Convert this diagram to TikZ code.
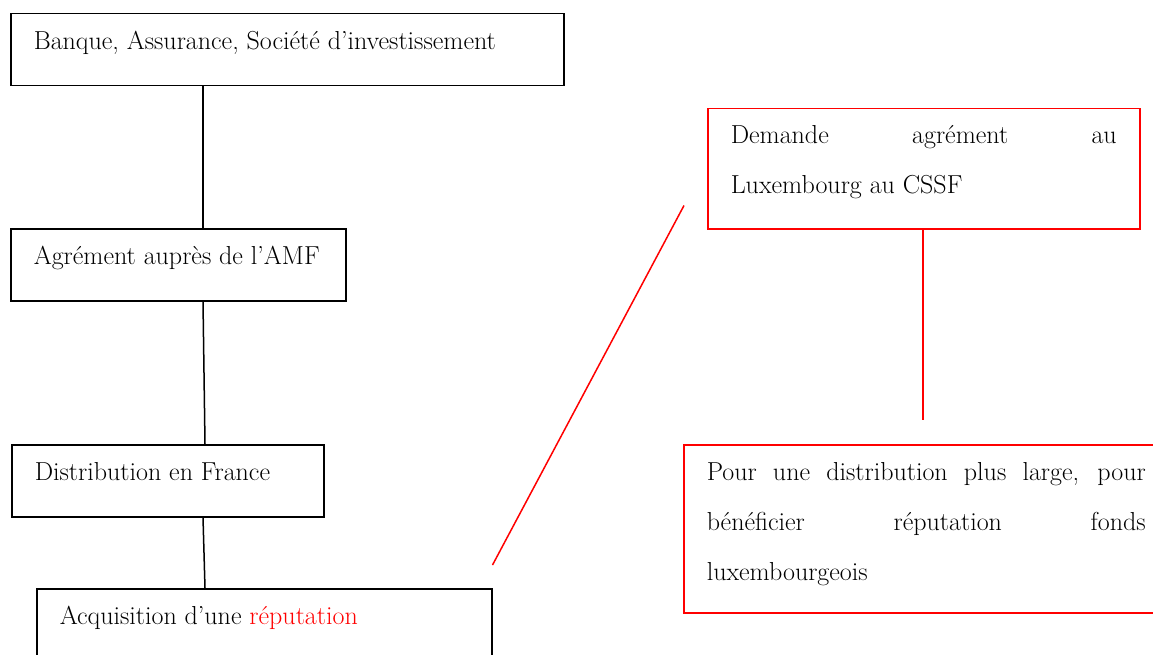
\documentclass[tikz,border=0pt]{standalone}
\usepackage{fontspec}
\usepackage{xcolor}
\usepackage{tikz}
\usetikzlibrary{positioning}

\begin{document}
\begin{tikzpicture}[
  x=1pt, y=-1pt,
  font=\fontsize{26}{50}\selectfont,
  box/.style={draw=black, line width=1.5pt, anchor=north west,
              inner xsep=23pt, inner ysep=0pt, align=justify,
              text height=15pt, text depth=15pt, minimum height=72pt},
  redbox/.style={box, draw=red},
  link/.style={line width=1.5pt},
  redlink/.style={link, red},
]
\useasboundingbox (0,0) rectangle (1153,655);
\node[box, text width=507pt] (bank) at (10,13)
  {Banque, Assurance, Société d’investissement};
\node[box, text width=289pt] (amf) at (10,228) {Agrément auprès de l’AMF};
\node[box, text width=266pt] (france) at (11,444) {Distribution en France};
\node[box, text width=409pt] (repu) at (36,588)
  {Acquisition d’une \textcolor{red}{réputation}};
\node[redbox, text width=386pt, text height=20pt, text depth=70pt,
      minimum height=120pt] (cssf) at (707,108)
  {Demande agrément au\linebreak Luxembourg au CSSF};
\node[redbox, text width=439pt, text height=20pt, text depth=116pt,
      minimum height=168pt] (lux) at (683,444)
  {Pour une distribution plus large, pour\linebreak
   bénéficier réputation fonds\linebreak luxembourgeois};
\coordinate (redfrom) at ([yshift=23pt]repu.north east);
\coordinate (redto) at ([shift={(-23pt,24pt)}]cssf.south west);
\coordinate (luxtop) at ([shift={(240pt,24pt)}]lux.north west);
\draw[link] ([xshift=193pt]bank.south west) -- ([xshift=193pt]amf.north west);
\draw[link] ([xshift=193pt]amf.south west) -- ([xshift=194pt]france.north west);
\draw[link] ([xshift=192pt]france.south west) -- ([xshift=169pt]repu.north west);
\draw[redlink] (redfrom) -- (redto);
\draw[redlink] ([xshift=216pt]cssf.south west) -- (luxtop);
\end{tikzpicture}
\end{document}
